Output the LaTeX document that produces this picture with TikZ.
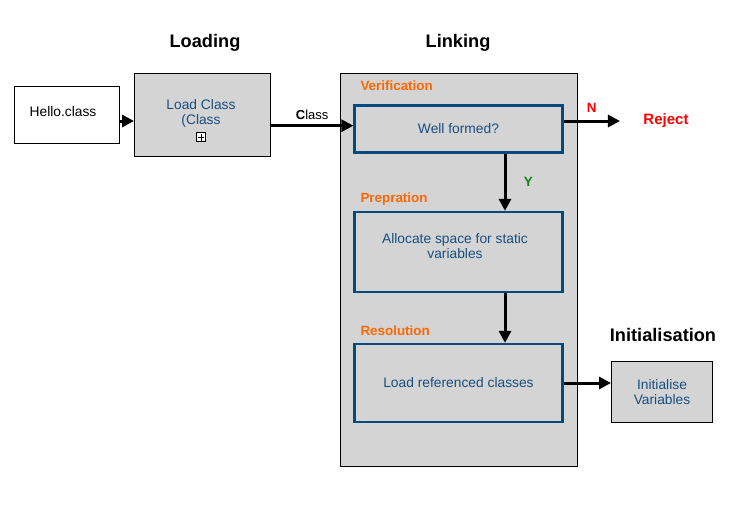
\documentclass[tikz,border=0pt]{standalone}
\usepackage{fontspec}
\setmainfont{Liberation Sans}
\usetikzlibrary{arrows.meta, positioning}

\definecolor{boxgray}{RGB}{212,212,212}
\definecolor{boxblue}{RGB}{0,74,130}
\definecolor{textblue}{RGB}{24,78,130}
\definecolor{phaseorange}{RGB}{255,104,0}
\definecolor{nored}{RGB}{255,0,0}
\definecolor{yesgreen}{RGB}{20,130,20}

\begin{document}
\begin{tikzpicture}[
    x=1pt, y=-1pt,
    box/.style={rectangle, draw, line width=1pt, fill=boxgray, text=textblue, align=center, font=\fontsize{13.8}{15}\selectfont},
    stagebox/.style={rectangle, draw=boxblue, line width=2.3pt, fill=boxgray, minimum width=208pt, text=textblue, align=center, font=\fontsize{13.8}{15}\selectfont},
    bluetext/.style={text=textblue, align=center, font=\fontsize{13.8}{15}\selectfont},
    title/.style={font=\fontsize{18.2}{20}\selectfont\bfseries},
    phase/.style={anchor=west, text=phaseorange, font=\fontsize{13.4}{15}\selectfont\bfseries},
    answer/.style={font=\fontsize{13.4}{15}\selectfont\bfseries},
    arrow/.style={-{Triangle[length=12pt, width=12pt]}, line width=3pt}
]
    \useasboundingbox (0,0) rectangle (734,523);

    % titles
    \node[title] (loading) at (205,43) {Loading};
    \node[title] (linking) at (458,43) {Linking};
    \node[title] (initialisation) at (663,335) {Initialisation};

    % loading
    \node[box, fill=white, minimum width=105pt, minimum height=57pt] (hello) at (66.8,114.7) {};
    \node[bluetext, text=black] (hellotext) at (63,112) {Hello.class};
    \node[box, minimum width=136pt, minimum height=83pt] (load) at (202.5,115.3) {};
    \node[bluetext] (loadtext) at (201,113.5) {Load Class\\(Class};
    \node[draw, fill=white, line width=0.6pt, minimum size=9pt, inner sep=0pt, below=1.5pt of loadtext] (expand) {};
    \draw[line width=0.6pt] ([yshift=-1.5pt]expand.north) -- ([yshift=1.5pt]expand.south);
    \draw[line width=0.6pt] ([xshift=1.5pt]expand.west) -- ([xshift=-1.5pt]expand.east);

    % linking
    \node[box, minimum width=237pt, minimum height=393pt] (linkbox) at (459,270) {};
    \node[phase] (verification) at (357,86) {Verification};
    \node[stagebox, minimum height=47pt] (well) at (458.5,129) {Well formed?};
    \node[phase] (prepration) at (357,199) {Prepration};
    \node[stagebox, minimum height=80pt] (alloc) at (458.5,252) {};
    \node[bluetext] (alloctext) at (455,246) {Allocate space for static\\variables};
    \node[phase] (resolution) at (357,331) {Resolution};
    \node[stagebox, minimum height=78pt] (resolve) at (458.5,383) {Load referenced classes};

    % initialisation
    \node[box, minimum width=101pt, minimum height=61pt] (init) at (662,392.2) {Initialise\\Variables};

    \node[answer, font=\fontsize{15}{17}\selectfont\bfseries, text=nored] (reject) at (666,121) {Reject};

    % connectors
    \draw[arrow] ([yshift=-6.3pt]hello.east) -- ([yshift=-6.3pt]hello.east -| load.west);
    \draw[arrow] ([yshift=-10.4pt]load.east) -- ([yshift=-10.4pt]load.east -| well.west)
        node[midway, above=1pt, font=\fontsize{13}{15}\selectfont] {\textbf{C}lass};
    \draw[arrow] (well.east |- reject.west) -- ([xshift=-20pt]reject.west)
        node[midway, above=4pt, answer, text=nored] {N};
    \draw[arrow] ([xshift=46.5pt]well.south) -- ([xshift=46.5pt]well.south |- alloc.north)
        node[midway, right=14pt, answer, text=yesgreen] {Y};
    \draw[arrow] ([xshift=46.5pt]alloc.south) -- ([xshift=46.5pt]alloc.south |- resolve.north);
    \draw[arrow] (resolve.east) -- (resolve.east -| init.west);
\end{tikzpicture}
\end{document}
